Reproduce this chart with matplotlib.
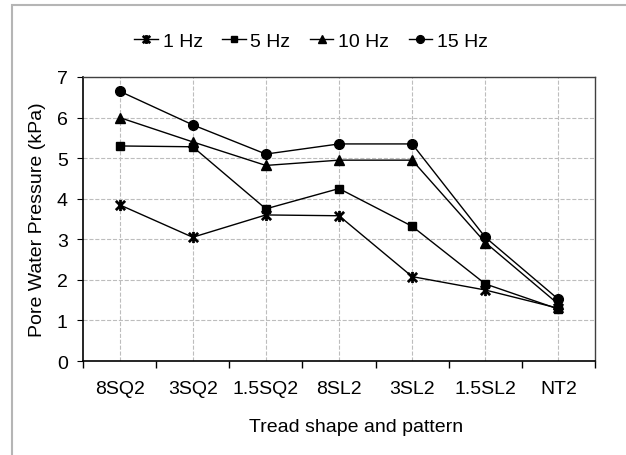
import matplotlib
matplotlib.use("Agg")
import matplotlib.pyplot as plt
from matplotlib.patches import Rectangle
from matplotlib.path import Path
import numpy as np

plt.rcParams['font.family'] = ['Liberation Sans', 'DejaVu Sans']

# Data
categories = ["8SQ2", "3SQ2", "1.5SQ2", "8SL2", "3SL2", "1.5SL2", "NT2"]
hz1 = [3.85, 3.05, 3.60, 3.58, 2.08, 1.75, 1.30]
hz5 = [5.30, 5.28, 3.75, 4.25, 3.32, 1.90, 1.28]
hz10 = [6.00, 5.40, 4.82, 4.95, 4.95, 2.92, 1.40]
hz15 = [6.65, 5.82, 5.10, 5.35, 5.35, 3.05, 1.52]

x = np.arange(len(categories))

# Excel-style star: an X with a vertical stroke
star = Path([(-1, -1), (1, 1), (-1, 1), (1, -1), (0, -1.2), (0, 1.2)],
            [Path.MOVETO, Path.LINETO, Path.MOVETO, Path.LINETO, Path.MOVETO, Path.LINETO])

fig = plt.figure(figsize=(6.26, 4.56), dpi=100)
ax = fig.add_axes([0.1326, 0.2061, 0.8179, 0.6229])

ax.plot(x, hz1, color="black", lw=1, marker=star, ms=8, mew=2, label="1 Hz")
ax.plot(x, hz5, color="black", lw=1, marker="s", ms=6, label="5 Hz")
ax.plot(x, hz10, color="black", lw=1, marker="^", ms=7, label="10 Hz")
ax.plot(x, hz15, color="black", lw=1, marker="o", ms=7, label="15 Hz")

ax.set_xlim(-0.5, len(categories) - 0.5)
ax.set_ylim(0, 7)
ax.set_yticks(range(0, 8))
ax.set_xticks(x)
ax.set_xticklabels(categories)
ax.set_xticks(np.arange(-0.5, len(categories)), minor=True)
ax.tick_params(axis="x", which="major", length=0, labelsize=14, pad=14)
ax.tick_params(axis="x", which="minor", length=5, direction="out", width=1)
ax.tick_params(axis="y", length=4, direction="out", labelsize=14, pad=7)

ax.grid(True, which="major", color="#bdbdbd", ls="--", lw=0.8)
ax.set_axisbelow(True)
for side in ["left", "bottom"]:
    ax.spines[side].set_color("black")
    ax.spines[side].set_linewidth(1.2)
for side in ["top", "right"]:
    ax.spines[side].set_color("#404040")
    ax.spines[side].set_linewidth(1)

ax.set_xlabel("Tread shape and pattern", fontsize=14)
ax.xaxis.set_label_coords(0.533, -0.20)
ax.set_ylabel("Pore Water Pressure (kPa)", fontsize=14, labelpad=8)

ax.legend(loc="center", bbox_to_anchor=(0.497, 0.907), bbox_transform=fig.transFigure,
          ncol=4, frameon=False, fontsize=14, handlelength=1.2, handletextpad=0.25,
          columnspacing=1.0, markerscale=0.8)

# light gray outer frame, cut off at right and bottom
fig.patches.append(Rectangle((12 / 626, -0.1), 1.2, 1.1 - 6 / 456, transform=fig.transFigure,
                             fill=False, edgecolor="#b5b5b5", lw=1.5))

fig.savefig("out.png", dpi=100)
